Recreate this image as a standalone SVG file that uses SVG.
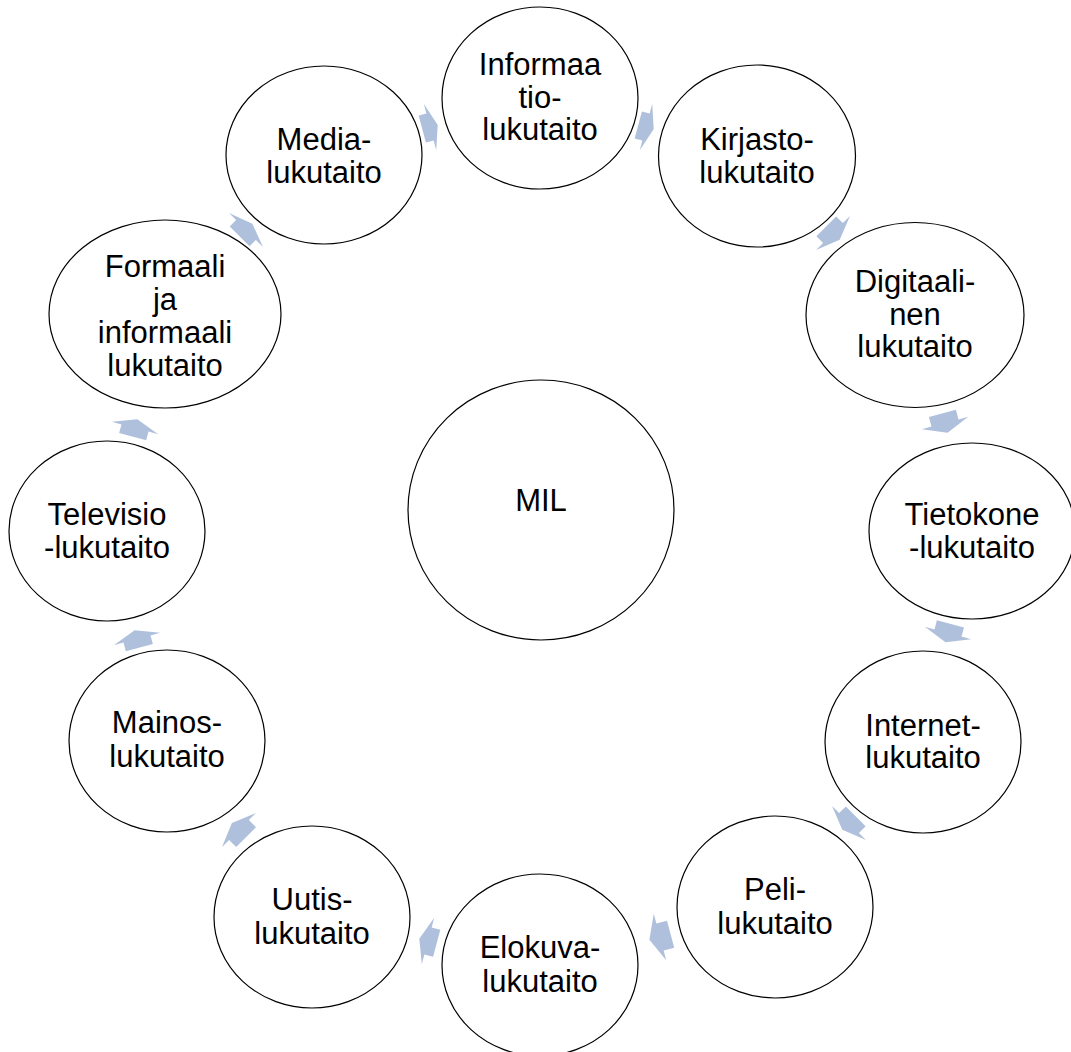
<svg xmlns="http://www.w3.org/2000/svg" width="1071" height="1052" viewBox="0 0 1071 1052">
<style>
.n{fill:#fff;stroke:#000;stroke-width:1.2}
.t{font-family:"Liberation Sans",Arial,sans-serif;font-size:31px;fill:#000;text-anchor:middle}
.a{fill:#afc0dd}
</style>
<rect width="1071" height="1052" fill="#fff"/>
<g id="connectors">
<path class="a" transform="translate(430,127) rotate(-15)" d="M-8,-14H0V-24L8,0L0,24V14H-8Z"/>
<path class="a" transform="translate(646,127) rotate(15)" d="M-8,-14H0V-24L8,0L0,24V14H-8Z"/>
<path class="a" transform="translate(833,233) rotate(45)" d="M-9.5,-14H0V-24L9.5,0L0,24V14H-9.5Z"/>
<path class="a" transform="translate(945,423) rotate(75)" d="M-10,-14H0V-24L10,0L0,24V14H-10Z"/>
<path class="a" transform="translate(948,633) rotate(105)" d="M-9.5,-14H0V-24L9.5,0L0,24V14H-9.5Z"/>
<path class="a" transform="translate(849,823) rotate(135)" d="M-9.5,-14H0V-24L9.5,0L0,24V14H-9.5Z"/>
<path class="a" transform="translate(660,937) rotate(165)" d="M-11,-14H0V-24L11,0L0,24V14H-11Z"/>
<path class="a" transform="translate(428,941) rotate(195)" d="M-9,-14H0V-24L9,0L0,24V14H-9Z"/>
<path class="a" transform="translate(239,830) rotate(225)" d="M-10,-14H0V-24L10,0L0,24V14H-10Z"/>
<path class="a" transform="translate(137,639) rotate(255)" d="M-9,-14H0V-24L9,0L0,24V14H-9Z"/>
<path class="a" transform="translate(135,428) rotate(285)" d="M-9,-14H0V-24L9,0L0,24V14H-9Z"/>
<path class="a" transform="translate(246,230) rotate(315)" d="M-9,-14H0V-24L9,0L0,24V14H-9Z"/>
</g>
<g id="mil"><ellipse class="n" cx="541" cy="510" rx="133" ry="130"/><text class="t" x="541" y="511">MIL</text></g>
<g id="informaatio"><ellipse class="n" cx="540" cy="98" rx="98" ry="91"/><text class="t" x="540" y="75">Informaa</text><text class="t" x="540" y="108">tio-</text><text class="t" x="540" y="140">lukutaito</text></g>
<g id="kirjasto"><ellipse class="n" cx="757" cy="156" rx="98.5" ry="91"/><text class="t" x="757" y="150">Kirjasto-</text><text class="t" x="757" y="183">lukutaito</text></g>
<g id="digitaalinen"><ellipse class="n" cx="915" cy="315" rx="109" ry="92.5"/><text class="t" x="915" y="292">Digitaali-</text><text class="t" x="915" y="325">nen</text><text class="t" x="915" y="357">lukutaito</text></g>
<g id="tietokone"><ellipse class="n" cx="972" cy="531" rx="103" ry="88"/><text class="t" x="972" y="525">Tietokone</text><text class="t" x="972" y="558">-lukutaito</text></g>
<g id="internet"><ellipse class="n" cx="923" cy="742" rx="98" ry="91"/><text class="t" x="923" y="736">Internet-</text><text class="t" x="923" y="768">lukutaito</text></g>
<g id="peli"><ellipse class="n" cx="775" cy="907" rx="98" ry="91"/><text class="t" x="775" y="900">Peli-</text><text class="t" x="775" y="934">lukutaito</text></g>
<g id="elokuva"><ellipse class="n" cx="540" cy="965" rx="98" ry="91"/><text class="t" x="540" y="958">Elokuva-</text><text class="t" x="540" y="992">lukutaito</text></g>
<g id="uutis"><ellipse class="n" cx="312" cy="917" rx="98" ry="91"/><text class="t" x="312" y="910">Uutis-</text><text class="t" x="312" y="944">lukutaito</text></g>
<g id="mainos"><ellipse class="n" cx="167" cy="741" rx="98" ry="91"/><text class="t" x="167" y="733">Mainos-</text><text class="t" x="167" y="767">lukutaito</text></g>
<g id="televisio"><ellipse class="n" cx="107" cy="531" rx="98" ry="90"/><text class="t" x="107" y="525">Televisio</text><text class="t" x="107" y="558">-lukutaito</text></g>
<g id="formaali"><ellipse class="n" cx="165" cy="314" rx="116" ry="94"/><text class="t" x="165" y="277">Formaali</text><text class="t" x="165" y="310">ja</text><text class="t" x="165" y="343">informaali</text><text class="t" x="165" y="376">lukutaito</text></g>
<g id="media"><ellipse class="n" cx="324" cy="155" rx="98" ry="89"/><text class="t" x="324" y="150">Media-</text><text class="t" x="324" y="183">lukutaito</text></g>
</svg>
